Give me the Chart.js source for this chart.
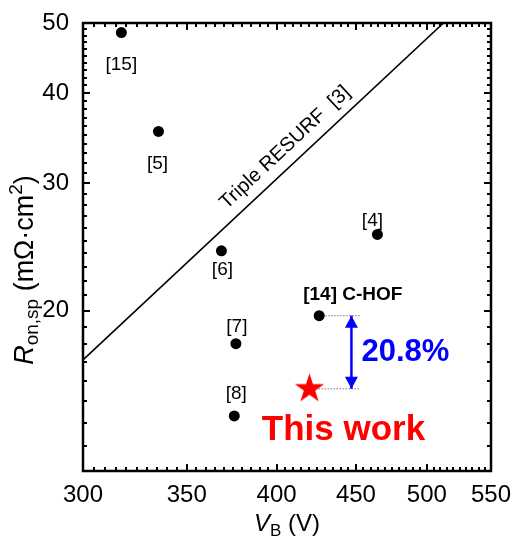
<!DOCTYPE html>
<html>
<head>
<meta charset="utf-8">
<title>Ron,sp vs VB</title>
<script src="https://cdn.jsdelivr.net/npm/chart.js@4.4.1/dist/chart.umd.min.js"></script>
<style>
  html, body { margin: 0; padding: 0; background: #fff; }
  #wrap { width: 512px; height: 541px; position: relative; }
</style>
</head>
<body>
<div id="wrap"><canvas id="ronChart"></canvas></div>
<script>
// reference devices: breakdown voltage (V) and specific on-resistance (mOhm.cm2)
const refLabels = ['[15]', '[5]', '[6]', '[4]', '[7]', '[8]', '[14]'];
const refVb = [317.6, 335.6, 368.5, 464.6, 376.5, 375.6, 426.1];
const refRon = [48.5, 35.4, 24.2, 25.5, 18.0, 14.3, 19.68];

// this work
const thisVb = [420];
const thisRon = [15.59];

// triple RESURF limit [3]
const resurfVb = [300, 512.5];
const resurfRon = [17.1, 50];

// improvement marker (dotted guides + arrow)
const guideEndVb = 453;
const arrowVb = 447;
const improvementText = '20.8%';

const xTicks = [300, 350, 400, 450, 500, 550];
const yTicks = [20, 30, 40, 50];

// minor ticks: every 5 V and every 1 mOhm.cm2
const xMinor = [];
for (let v = 300; v <= 550; v += 5) xMinor.push(v);
const yMinor = [];
for (let v = 12; v <= 50; v += 1) yMinor.push(v);

const FONT = '"Liberation Sans", Arial, sans-serif';

// where each [n] label sits relative to its dot (px)
const labelOffsets = {
  '[15]': [0, 32], '[5]': [-1, 32], '[6]': [1, 19],
  '[4]': [-5, -14], '[7]': [1, -17], '[8]': [2, -22]
};

function makeStar(r, color) {
  const c = document.createElement('canvas');
  const s = Math.ceil(r * 2 + 2);
  c.width = s; c.height = s;
  const g = c.getContext('2d');
  g.fillStyle = color;
  g.beginPath();
  for (let i = 0; i < 10; i++) {
    const rad = i % 2 ? r * 0.382 : r;
    const ang = -Math.PI / 2 + i * Math.PI / 5;
    g.lineTo(s / 2 + rad * Math.cos(ang), s / 2 + rad * Math.sin(ang));
  }
  g.closePath();
  g.fill();
  return c;
}

function drawRich(ctx, parts, x, y, angle) {
  ctx.save();
  ctx.translate(x, y);
  ctx.rotate(angle);
  let total = 0;
  parts.forEach(p => { ctx.font = p.font; p.w = ctx.measureText(p.text).width; total += p.w; });
  let cx = -total / 2;
  ctx.textAlign = 'left';
  ctx.textBaseline = 'alphabetic';
  ctx.fillStyle = '#000';
  parts.forEach(p => { ctx.font = p.font; ctx.fillText(p.text, cx, p.dy); cx += p.w; });
  ctx.restore();
}

// frame with inward ticks on all four sides
const framePlugin = {
  id: 'boxTicks',
  afterDraw(chart) {
    const c = chart.ctx;
    const a = chart.chartArea;
    const sx = chart.scales.x, sy = chart.scales.y;
    c.save();
    c.strokeStyle = '#000';
    c.lineWidth = 2;
    for (const v of xMinor) {
      const px = Math.round(sx.getPixelForValue(v));
      const len = xTicks.indexOf(v) >= 0 ? 7 : 4;
      c.beginPath();
      c.moveTo(px, a.bottom);
      c.lineTo(px, a.bottom - len);
      c.moveTo(px, a.top);
      c.lineTo(px, a.top + len);
      c.stroke();
    }
    for (const v of yMinor) {
      const py = Math.round(sy.getPixelForValue(v));
      const len = yTicks.indexOf(v) >= 0 ? 7 : 4;
      c.beginPath();
      c.moveTo(a.left, py);
      c.lineTo(a.left + len, py);
      c.moveTo(a.right, py);
      c.lineTo(a.right - len, py);
      c.stroke();
    }
    c.lineWidth = 2.5;
    c.strokeRect(a.left, a.top, a.right - a.left, a.bottom - a.top);
    c.restore();
  }
};

// text labels, arrow heads and axis titles
const notesPlugin = {
  id: 'notes',
  afterDatasetsDraw(chart) {
    const ctx = chart.ctx;
    const x = chart.scales.x, y = chart.scales.y;
    ctx.save();

    // [n] labels
    ctx.fillStyle = '#000';
    ctx.font = '19px ' + FONT;
    ctx.textAlign = 'center';
    ctx.textBaseline = 'middle';
    refLabels.forEach((lab, i) => {
      const off = labelOffsets[lab];
      if (!off) return;
      ctx.fillText(lab, x.getPixelForValue(refVb[i]) + off[0], y.getPixelForValue(refRon[i]) + off[1]);
    });

    // [14] C-HOF
    const i14 = refLabels.indexOf('[14]');
    ctx.font = 'bold 19px ' + FONT;
    ctx.textAlign = 'left';
    ctx.textBaseline = 'alphabetic';
    ctx.fillText('[14] C-HOF', x.getPixelForValue(refVb[i14]) - 16, y.getPixelForValue(refRon[i14]) - 16);

    // Triple RESURF label along the line
    const p1 = { x: x.getPixelForValue(resurfVb[0]), y: y.getPixelForValue(resurfRon[0]) };
    const p2 = { x: x.getPixelForValue(resurfVb[1]), y: y.getPixelForValue(resurfRon[1]) };
    const dx = p2.x - p1.x, dy = p2.y - p1.y;
    const L = Math.hypot(dx, dy);
    const t = 0.593;
    const cx = p1.x + dx * t + (dy / L) * 17;
    const cy = p1.y + dy * t + (-dx / L) * 17;
    ctx.save();
    ctx.translate(cx, cy);
    ctx.rotate(Math.atan2(dy, dx));
    ctx.font = '20px ' + FONT;
    ctx.textAlign = 'center';
    ctx.textBaseline = 'middle';
    ctx.fillText('Triple RESURF  [3]', 0, 0);
    ctx.restore();

    // arrow heads
    const ax = x.getPixelForValue(arrowVb);
    const yTop = y.getPixelForValue(refRon[i14]);
    const yBot = y.getPixelForValue(thisRon[0]);
    ctx.fillStyle = '#0000ff';
    ctx.beginPath();
    ctx.moveTo(ax, yTop); ctx.lineTo(ax - 6.5, yTop + 12); ctx.lineTo(ax + 6.5, yTop + 12); ctx.closePath();
    ctx.moveTo(ax, yBot); ctx.lineTo(ax - 6.5, yBot - 12); ctx.lineTo(ax + 6.5, yBot - 12); ctx.closePath();
    ctx.fill();

    ctx.font = 'bold 31px ' + FONT;
    ctx.textAlign = 'left';
    ctx.textBaseline = 'middle';
    ctx.fillText(improvementText, ax + 10, (yTop + yBot) / 2);

    // This work
    ctx.fillStyle = '#ff0000';
    ctx.font = 'bold 35px ' + FONT;
    ctx.textAlign = 'center';
    ctx.textBaseline = 'alphabetic';
    ctx.fillText('This work', x.getPixelForValue(thisVb[0]) + 34, yBot + 51);

    ctx.restore();

    // axis titles
    drawRich(ctx, [
      { text: 'R', font: 'italic 27px ' + FONT, dy: 0 },
      { text: 'on,sp', font: '19px ' + FONT, dy: 5 },
      { text: ' (m\u03A9\u00B7cm', font: '27px ' + FONT, dy: 0 },
      { text: '2', font: '19px ' + FONT, dy: -11 },
      { text: ')', font: '27px ' + FONT, dy: 0 }
    ], 33, 270, -Math.PI / 2);

    drawRich(ctx, [
      { text: 'V', font: 'italic 24px ' + FONT, dy: 0 },
      { text: 'B', font: '17px ' + FONT, dy: 5 },
      { text: ' (V)', font: '24px ' + FONT, dy: 0 }
    ], 287, 531, 0);
  }
};

const ronCtx = document.getElementById('ronChart').getContext('2d');
const ronChart = new Chart(ronCtx, {
  type: 'scatter',
  data: {
    datasets: [
      {
        label: 'This work',
        data: thisVb.map((v, i) => ({ x: v, y: thisRon[i] })),
        pointStyle: makeStar(15.5, '#ff0000'),
        pointRadius: 12
      },
      {
        label: 'Reported',
        data: refVb.map((v, i) => ({ x: v, y: refRon[i] })),
        pointStyle: 'circle',
        pointRadius: 5.5,
        pointBackgroundColor: '#000',
        pointBorderColor: '#000',
        pointBorderWidth: 0
      },
      {
        label: 'arrow',
        data: [{ x: arrowVb, y: refRon[6] }, { x: arrowVb, y: thisRon[0] }],
        showLine: true,
        borderColor: '#0000ff',
        borderWidth: 2.5,
        pointRadius: 0
      },
      {
        label: 'guide14',
        data: [{ x: refVb[6], y: refRon[6] }, { x: guideEndVb, y: refRon[6] }],
        showLine: true,
        borderColor: '#777',
        borderWidth: 1,
        borderDash: [1.5, 1.5],
        pointRadius: 0
      },
      {
        label: 'guideThis',
        data: [{ x: thisVb[0], y: thisRon[0] }, { x: guideEndVb, y: thisRon[0] }],
        showLine: true,
        borderColor: '#777',
        borderWidth: 1,
        borderDash: [1.5, 1.5],
        pointRadius: 0
      },
      {
        label: 'Triple RESURF',
        data: resurfVb.map((v, i) => ({ x: v, y: resurfRon[i] })),
        showLine: true,
        borderColor: '#000',
        borderWidth: 1.6,
        pointRadius: 0
      }
    ]
  },
  options: {
    responsive: true,
    maintainAspectRatio: false,
    animation: false,
    events: [],
    layout: { padding: { left: 0, right: 21, top: 23, bottom: 0 } },
    plugins: {
      legend: { display: false },
      tooltip: { enabled: false },
      title: { display: false }
    },
    scales: {
      x: {
        type: 'logarithmic',
        min: 300,
        max: 550,
        afterBuildTicks: axis => { axis.ticks = xTicks.map(v => ({ value: v })); },
        afterFit: axis => { axis.height = 70; axis.paddingLeft = 0; axis.paddingRight = 0; },
        grid: { display: false },
        border: { display: false },
        ticks: {
          color: '#000',
          font: { family: FONT, size: 24 },
          padding: 2,
          maxRotation: 0,
          autoSkip: false,
          callback: v => String(v)
        }
      },
      y: {
        type: 'logarithmic',
        min: 12,
        max: 50,
        afterBuildTicks: axis => { axis.ticks = yTicks.map(v => ({ value: v })); },
        afterFit: axis => { axis.width = 83; axis.paddingTop = 0; axis.paddingBottom = 0; },
        grid: { display: false },
        border: { display: false },
        ticks: {
          color: '#000',
          font: { family: FONT, size: 24 },
          padding: 6,
          autoSkip: false,
          callback: v => String(v)
        }
      }
    }
  },
  plugins: [framePlugin, notesPlugin]
});
</script>
</body>
</html>
